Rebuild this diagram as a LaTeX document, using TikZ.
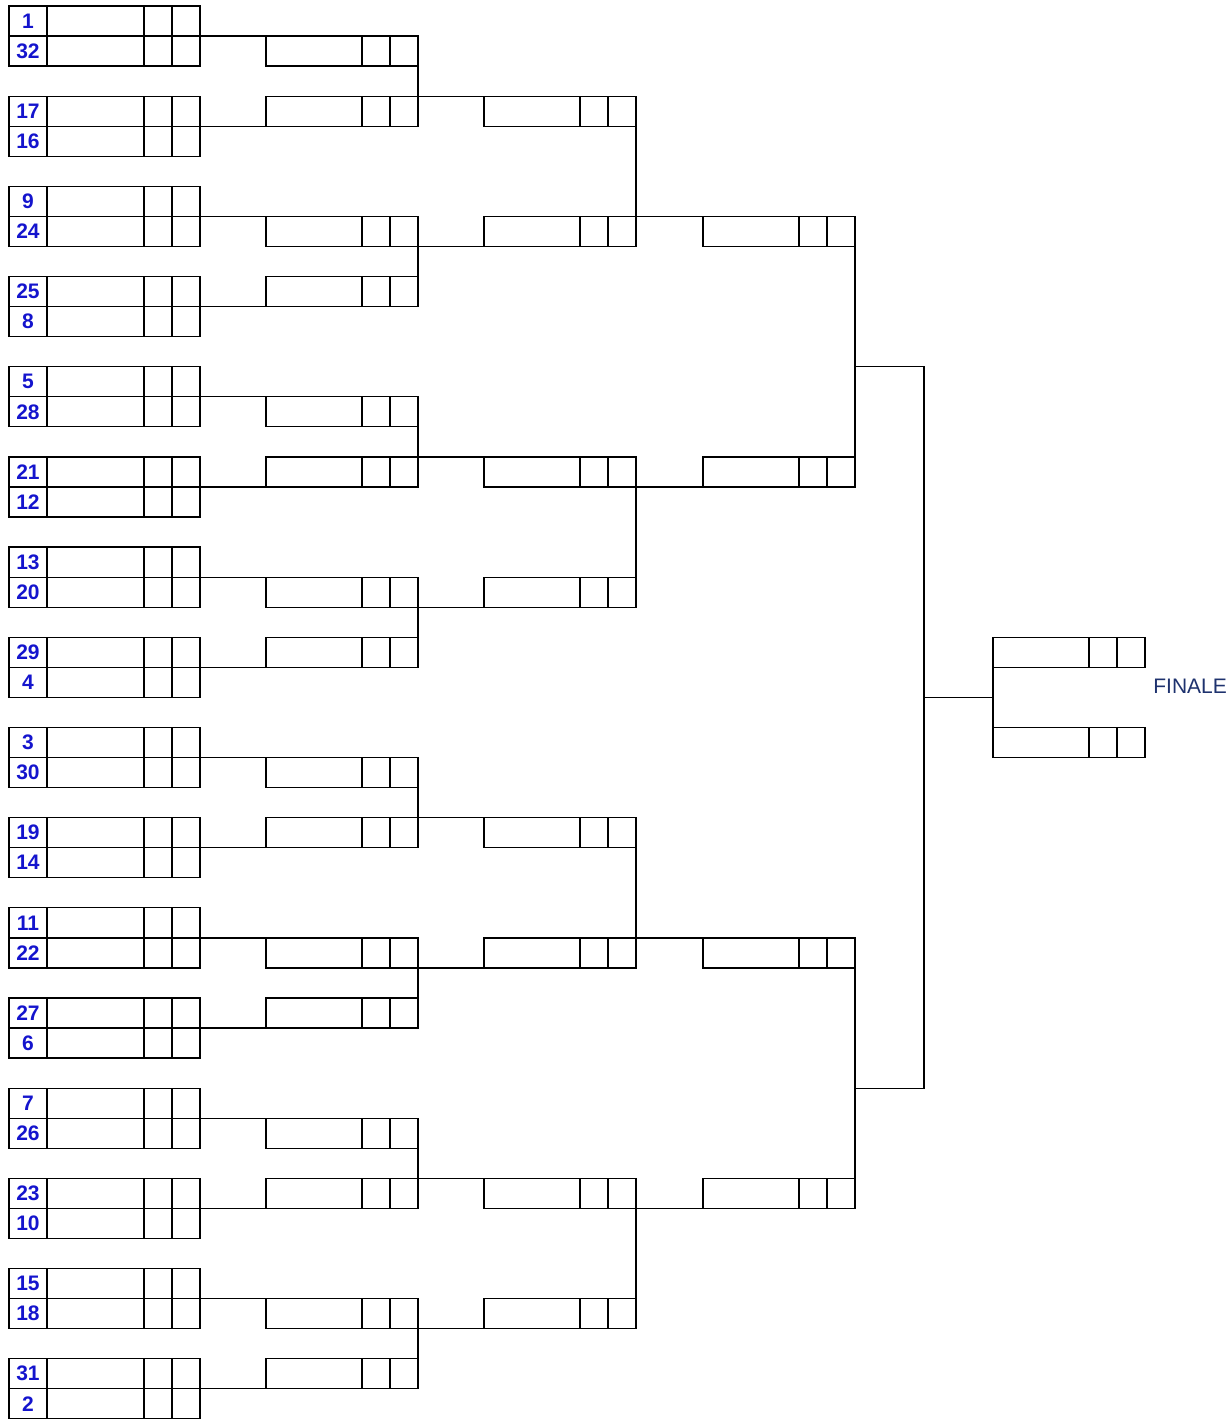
\documentclass[tikz,border=0pt]{standalone}
\usepackage{fontspec}
\setmainfont{Liberation Sans}
\usepackage{tikz}
\usetikzlibrary{positioning}
\definecolor{blusemi}{RGB}{20,20,205}
\definecolor{blufinale}{RGB}{30,50,110}
\tikzset{
  linea/.style={line width=0.65pt},
  casella/.style={draw, rectangle, linea, inner sep=0pt, outer sep=0pt, anchor=north west,
    minimum width=76pt, minimum height=15.03pt,
    path picture={
      \draw[linea] ([xshift=-14pt]path picture bounding box.north east) -- ([xshift=-14pt]path picture bounding box.south east);
      \draw[linea] ([xshift=-28pt]path picture bounding box.north east) -- ([xshift=-28pt]path picture bounding box.south east);
    }},
  seme/.style={draw, rectangle, linea, inner sep=0pt, outer sep=0pt, anchor=north west,
    minimum width=19pt, minimum height=15.03pt,
    text=blusemi, font=\bfseries\fontsize{10.5}{12}\selectfont}
}

\begin{document}
\begin{tikzpicture}[x=0.5pt, y=-0.5pt]
    \useasboundingbox (0,0) rectangle (1230,1420);

    % Primo turno: teste di serie e caselle
    \foreach \n [count=\i from 0] in {1,32,17,16,9,24,25,8,5,28,21,12,13,20,29,4,3,30,19,14,11,22,27,6,7,26,23,10,15,18,31,2} {
        \pgfmathsetmacro\yy{6+30.06*(3*int(\i/2)+mod(\i,2))}
        \node[seme] (s\i) at (9,\yy) {\n};
        \node[casella, minimum width=76.5pt] (r1-\i) at (s\i.north east) {};
    }

    % Turni successivi (righe)
    \foreach \t/\x/\righe in {2/266/{1,3,7,9,13,15,19,21,25,27,31,33,37,39,43,45},
                              3/484/{3,7,15,19,27,31,39,43},
                              4/703/{7,15,31,39},
                              5/993/{21,24}} {
        \foreach \r [count=\i from 0] in \righe {
            \pgfmathsetmacro\yy{6+30.06*\r}
            \node[casella] (r\t-\i) at (\x,\yy) {};
        }
    }

    % Collegamenti tra i turni
    \foreach \t/\n in {1/15, 2/7, 3/3} {
        \pgfmathtruncatemacro\u{\t+1}
        \foreach \p in {0,...,\n} {
            \pgfmathtruncatemacro\a{2*\p}
            \pgfmathtruncatemacro\b{2*\p+1}
            \draw[linea] (r\t-\a.south east) -- (r\t-\b.north east);
            \ifodd\p
                \draw[linea] (r\t-\a.south east) -- (r\u-\p.south west);
            \else
                \draw[linea] (r\t-\b.north east) -- (r\u-\p.north west);
            \fi
        }
    }

    % Semifinali verso la finale
    \coordinate (m1) at (924,366.7);
    \coordinate (m2) at (924,1088.2);
    \coordinate (fm) at (924,697.4);
    \draw[linea] (r4-0.south east) -- (r4-1.north east);
    \draw[linea] (r4-2.south east) -- (r4-3.north east);
    \draw[linea] (m1 -| r4-0.east) -- (m1) -- (m2) -- (m2 -| r4-2.east);
    \draw[linea] (fm) -- (fm -| r5-0.west);
    \draw[linea] (r5-0.south west) -- (r5-1.north west);

    % Testo finale
    \node[anchor=west, inner sep=0pt, text=blufinale, font=\fontsize{10.5}{12}\selectfont] (finale) at (1153,686) {FINALE};
\end{tikzpicture}
\end{document}
